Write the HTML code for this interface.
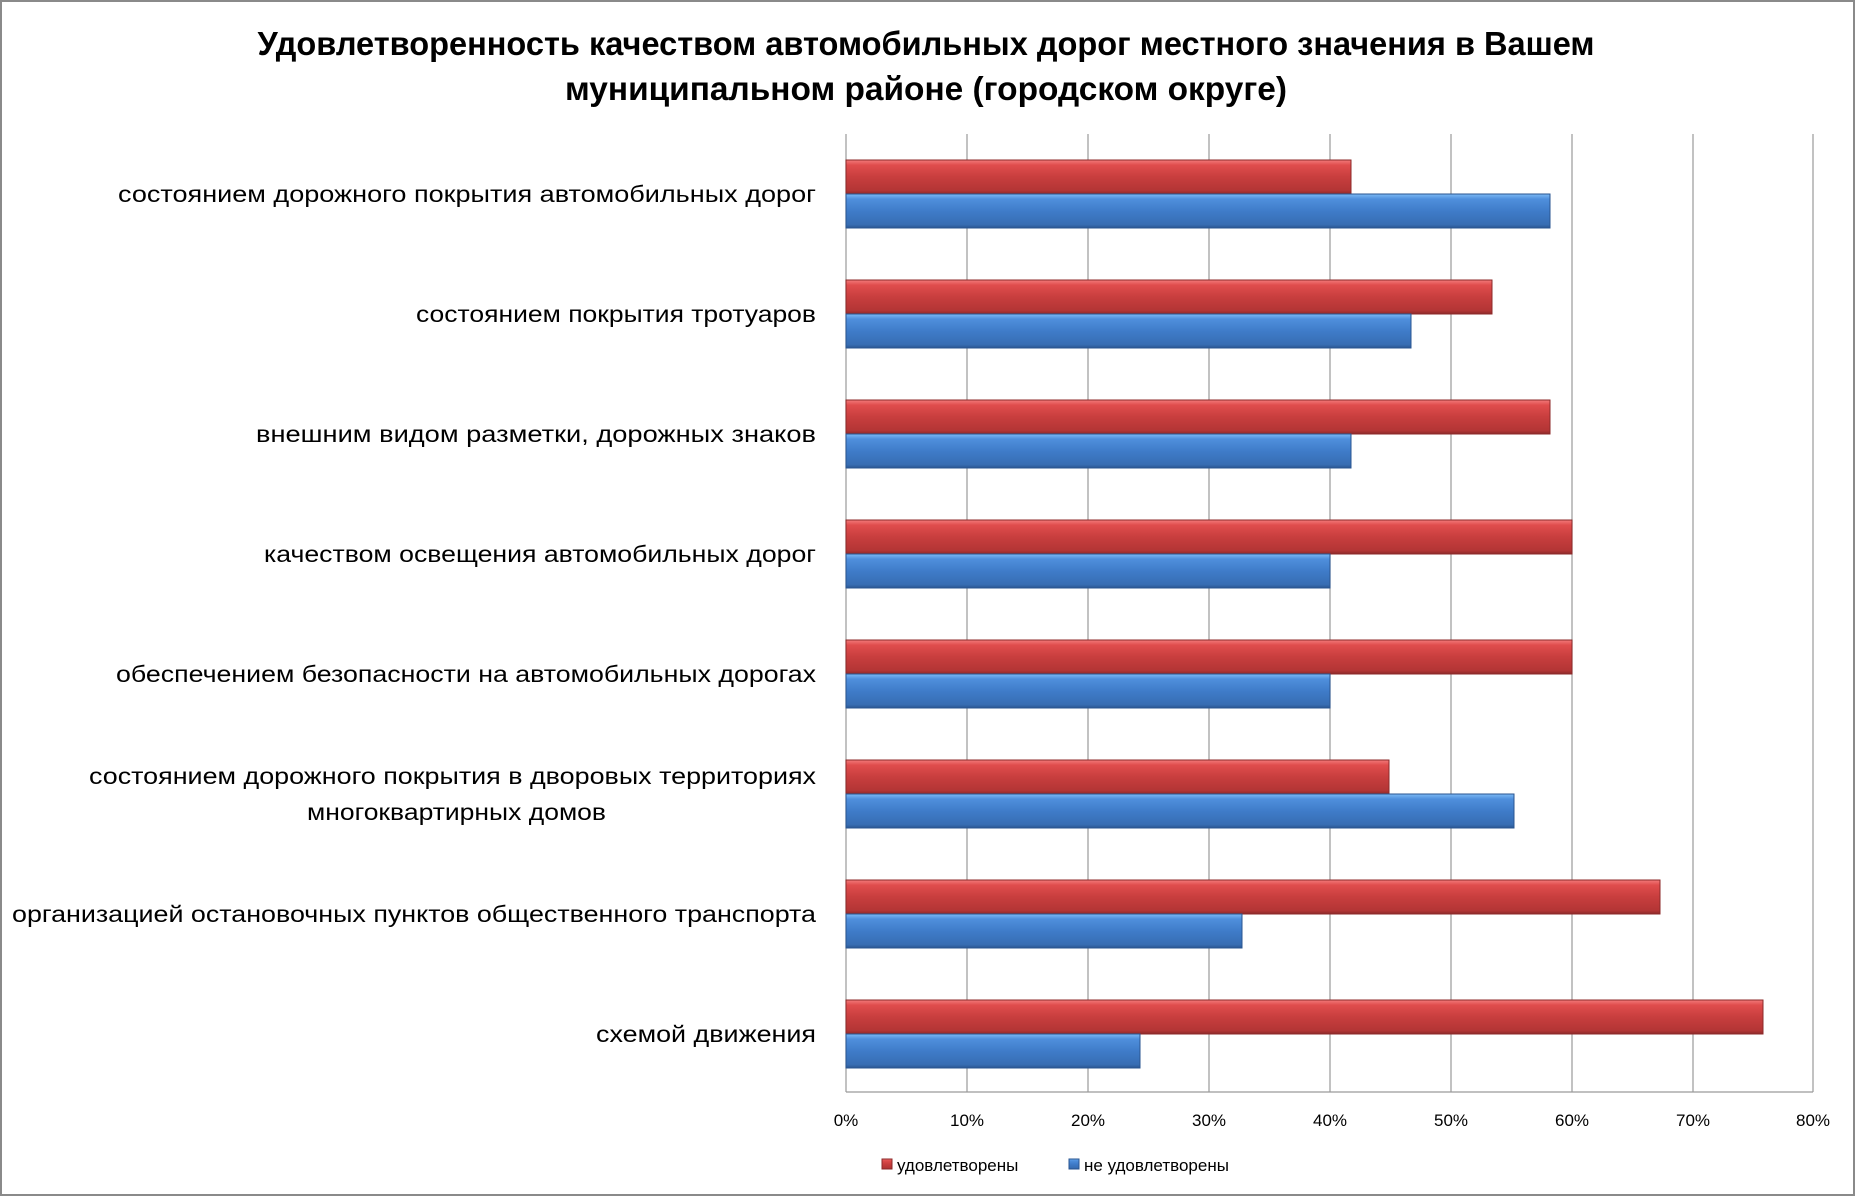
<!DOCTYPE html>
<html><head><meta charset="utf-8"><style>
html,body{margin:0;padding:0;background:#fff}
svg{display:block}
text{font-family:"Liberation Sans","DejaVu Sans",sans-serif}
</style></head><body>
<svg width="1855" height="1196" viewBox="0 0 1855 1196" xmlns="http://www.w3.org/2000/svg">
<defs>
<linearGradient id="r" x1="0" y1="0" x2="0" y2="1">
<stop offset="0" stop-color="#f27a7a"/><stop offset="0.15" stop-color="#e04d4d"/><stop offset="0.5" stop-color="#c83e3e"/><stop offset="0.9" stop-color="#b33535"/><stop offset="1" stop-color="#8c2a2a"/></linearGradient>
<linearGradient id="b" x1="0" y1="0" x2="0" y2="1">
<stop offset="0" stop-color="#7dbaf5"/><stop offset="0.15" stop-color="#4f8fdc"/><stop offset="0.5" stop-color="#3f7cc9"/><stop offset="0.9" stop-color="#376db3"/><stop offset="1" stop-color="#2a5590"/></linearGradient>
</defs>
<rect x="1" y="1" width="1853" height="1194" fill="#fff" stroke="#8a8a8a" stroke-width="2"/>
<text x="926" y="55" text-anchor="middle" font-size="33" font-weight="bold" textLength="1337" lengthAdjust="spacingAndGlyphs">Удовлетворенность качеством автомобильных дорог местного значения в Вашем</text>
<text x="926" y="100" text-anchor="middle" font-size="33" font-weight="bold" textLength="722" lengthAdjust="spacingAndGlyphs">муниципальном районе (городском округе)</text>
<g stroke="#9a9a9a" stroke-width="1.2">
<line x1="846" y1="134" x2="846" y2="1092"/><line x1="967" y1="134" x2="967" y2="1092"/><line x1="1088" y1="134" x2="1088" y2="1092"/><line x1="1209" y1="134" x2="1209" y2="1092"/><line x1="1330" y1="134" x2="1330" y2="1092"/><line x1="1451" y1="134" x2="1451" y2="1092"/><line x1="1572" y1="134" x2="1572" y2="1092"/><line x1="1693" y1="134" x2="1693" y2="1092"/><line x1="1813" y1="134" x2="1813" y2="1092"/>
<line x1="846" y1="1092" x2="1813" y2="1092"/>
</g>
<g stroke-width="1">
<rect x="846" y="160" width="505" height="34" fill="url(#r)" stroke="#8c2a2a"/><rect x="846" y="194" width="704" height="34" fill="url(#b)" stroke="#2a5590"/>
<rect x="846" y="280" width="646" height="34" fill="url(#r)" stroke="#8c2a2a"/><rect x="846" y="314" width="565" height="34" fill="url(#b)" stroke="#2a5590"/>
<rect x="846" y="400" width="704" height="34" fill="url(#r)" stroke="#8c2a2a"/><rect x="846" y="434" width="505" height="34" fill="url(#b)" stroke="#2a5590"/>
<rect x="846" y="520" width="726" height="34" fill="url(#r)" stroke="#8c2a2a"/><rect x="846" y="554" width="484" height="34" fill="url(#b)" stroke="#2a5590"/>
<rect x="846" y="640" width="726" height="34" fill="url(#r)" stroke="#8c2a2a"/><rect x="846" y="674" width="484" height="34" fill="url(#b)" stroke="#2a5590"/>
<rect x="846" y="760" width="543" height="34" fill="url(#r)" stroke="#8c2a2a"/><rect x="846" y="794" width="668" height="34" fill="url(#b)" stroke="#2a5590"/>
<rect x="846" y="880" width="814" height="34" fill="url(#r)" stroke="#8c2a2a"/><rect x="846" y="914" width="396" height="34" fill="url(#b)" stroke="#2a5590"/>
<rect x="846" y="1000" width="917" height="34" fill="url(#r)" stroke="#8c2a2a"/><rect x="846" y="1034" width="294" height="34" fill="url(#b)" stroke="#2a5590"/>
</g>
<g font-size="23" fill="#000" text-anchor="end">
<text x="816" y="202" textLength="698" lengthAdjust="spacingAndGlyphs">состоянием дорожного покрытия автомобильных дорог</text>
<text x="816" y="322" textLength="400" lengthAdjust="spacingAndGlyphs">состоянием покрытия тротуаров</text>
<text x="816" y="442" textLength="560" lengthAdjust="spacingAndGlyphs">внешним видом разметки, дорожных знаков</text>
<text x="816" y="562" textLength="552" lengthAdjust="spacingAndGlyphs">качеством освещения автомобильных дорог</text>
<text x="816" y="682" textLength="700" lengthAdjust="spacingAndGlyphs">обеспечением безопасности на автомобильных дорогах</text>
<text x="816" y="784" textLength="727" lengthAdjust="spacingAndGlyphs">состоянием дорожного покрытия в дворовых территориях</text>
<text x="606" y="820" textLength="299" lengthAdjust="spacingAndGlyphs">многоквартирных домов</text>
<text x="816" y="922" textLength="804" lengthAdjust="spacingAndGlyphs">организацией остановочных пунктов общественного транспорта</text>
<text x="816" y="1042" textLength="220" lengthAdjust="spacingAndGlyphs">схемой движения</text>
</g>
<g font-size="17" fill="#000" text-anchor="middle">
<text x="846" y="1126">0%</text><text x="967" y="1126">10%</text><text x="1088" y="1126">20%</text><text x="1209" y="1126">30%</text><text x="1330" y="1126">40%</text><text x="1451" y="1126">50%</text><text x="1572" y="1126">60%</text><text x="1693" y="1126">70%</text><text x="1813" y="1126">80%</text>
</g>
<rect x="882" y="1159" width="10" height="10" fill="url(#r)" stroke="#8c2a2a"/>
<text x="897" y="1171" font-size="17">удовлетворены</text>
<rect x="1069" y="1159" width="10" height="10" fill="url(#b)" stroke="#2a5590"/>
<text x="1084" y="1171" font-size="17">не удовлетворены</text>
</svg>
</body></html>
